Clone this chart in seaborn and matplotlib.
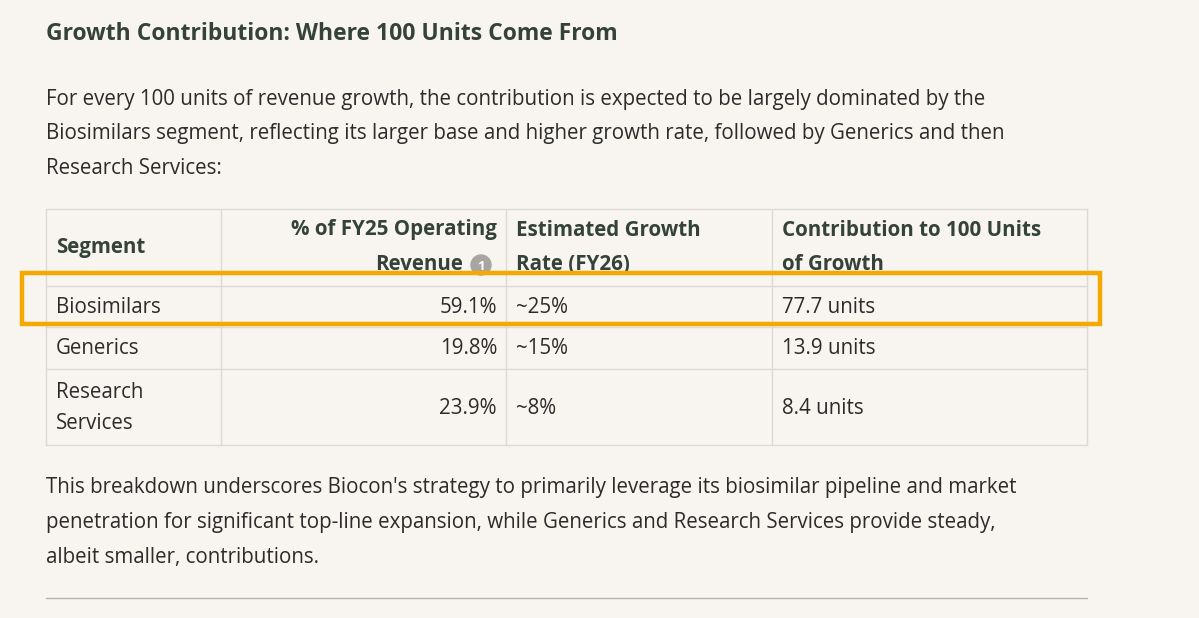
import matplotlib
matplotlib.use("Agg")
import matplotlib.pyplot as plt
import seaborn as sns
from matplotlib.patches import Rectangle, Circle

# Table data
segments = ["Biosimilars", "Generics", "Research\nServices"]
revenue_share = ["59.1%", "19.8%", "23.9%"]
growth_rate = ["~25%", "~15%", "~8%"]
contribution = ["77.7 units", "13.9 units", "8.4 units"]

title = "Growth Contribution: Where 100 Units Come From"
intro = ["For every 100 units of revenue growth, the contribution is expected to be largely dominated by the",
         "Biosimilars segment, reflecting its larger base and higher growth rate, followed by Generics and then",
         "Research Services:"]
outro = ["This breakdown underscores Biocon's strategy to primarily leverage its biosimilar pipeline and market",
         "penetration for significant top-line expansion, while Generics and Research Services provide steady,",
         "albeit smaller, contributions."]

sns.set_style("white")
plt.rcParams['font.family'] = ['Open Sans', 'DejaVu Sans']

bg = "#f8f5f0"
ink = "#2b2b2b"
head = "#34423a"
grid = "#dcdad5"
fs = 14.8

fig = plt.figure(figsize=(11.99, 6.18), dpi=100, facecolor=bg)
ax = fig.add_axes([0, 0, 1, 1])
ax.set_facecolor(bg)
ax.set_xlim(0, 1199)
ax.set_ylim(618, 0)
ax.axis("off")

ax.text(46, 34, title, fontsize=16.5, weight="bold", color=head, va="center")
for i, line in enumerate(intro):
    ax.text(46, 99 + i * 34.5, line, fontsize=fs, color=ink, va="center")

# table grid
left, right = 46, 1087
cols = [left, 221, 506, 772, right]
rows = [209, 286, 327, 369, 445]
for y in rows:
    ax.plot([left, right], [y, y], color=grid, lw=1)
for x in cols:
    ax.plot([x, x], [rows[0], rows[-1]], color=grid, lw=1)

# header
hkw = dict(fontsize=fs, weight="bold", color=head, va="center")
ax.text(56, 247, "Segment", **hkw)
ax.text(497, 230, "% of FY25 Operating", ha="right", **hkw)
ax.text(463, 264, "Revenue", ha="right", **hkw)
ax.add_patch(Circle((481, 265), 10, color="#a8a6a2", zorder=3))
ax.text(481, 266, "1", fontsize=9.5, weight="bold", color="white", ha="center", va="center", zorder=4)
ax.text(516, 230, "Estimated Growth", **hkw)
ax.text(516, 264, "Rate (FY26)", **hkw)
ax.text(782, 230, "Contribution to 100 Units", **hkw)
ax.text(782, 264, "of Growth", **hkw)

# body rows
for i, seg in enumerate(segments):
    yc = (rows[i + 1] + rows[i + 2]) / 2 + 1
    ax.text(56, yc, seg, fontsize=fs, color=ink, va="center", linespacing=1.6)
    ax.text(497, yc, revenue_share[i], fontsize=fs, color=ink, va="center", ha="right")
    ax.text(516, yc, growth_rate[i], fontsize=fs, color=ink, va="center")
    ax.text(782, yc, contribution[i], fontsize=fs, color=ink, va="center")

# highlight box
ax.add_patch(Rectangle((22, 273), 1078, 51, fill=False, edgecolor="#f5a800", lw=3.2, zorder=5))

for i, line in enumerate(outro):
    ax.text(46, 488 + i * 34.5, line, fontsize=fs, color=ink, va="center")

ax.plot([left, right], [598, 598], color="#b5b3ae", lw=1)

fig.savefig("out.png", dpi=100, facecolor=bg)
